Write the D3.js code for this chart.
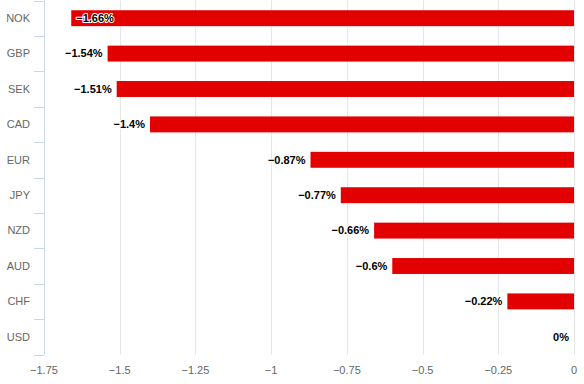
<!DOCTYPE html>
<html>
<head>
<meta charset="utf-8">
<script src="https://cdn.jsdelivr.net/npm/d3@7"></script>
<style>
  body { margin: 0; background: #fff; }
  svg { display: block; font-family: "Lucida Grande", "Lucida Sans Unicode", Arial, Helvetica, sans-serif; }
</style>
</head>
<body>
<script>
// currency performance, in %
var currencies = ["NOK", "GBP", "SEK", "CAD", "EUR", "JPY", "NZD", "AUD", "CHF", "USD"];
var changes = [-1.66, -1.54, -1.51, -1.4, -0.87, -0.77, -0.66, -0.6, -0.22, 0];
var xTicks = [-1.75, -1.5, -1.25, -1, -0.75, -0.5, -0.25, 0];

var width = 584,
    height = 384,
    plotLeft = 44,
    plotRight = 574,
    plotTop = 0.5,
    plotBottom = 354.5;

var fmt = function (v) { return String(v).replace("-", "\u2212"); };

var svg = d3.select("body").append("svg")
    .attr("width", width)
    .attr("height", height);

var x = d3.scaleLinear().domain([-1.75, 0]).range([plotLeft, plotRight]);
var y = d3.scaleBand().domain(currencies).range([plotTop, plotBottom]).paddingInner(0.55).paddingOuter(0.275);
var band = d3.scaleBand().domain(currencies).range([plotTop, plotBottom]);

// vertical grid lines
svg.append("g").selectAll("line")
    .data(xTicks.slice(1))
    .enter().append("line")
    .attr("x1", function (d) { return Math.round(x(d)) + 0.5; })
    .attr("x2", function (d) { return Math.round(x(d)) + 0.5; })
    .attr("y1", plotTop)
    .attr("y2", plotBottom)
    .attr("stroke", "#e6e6e6");

// x tick labels
svg.append("g").selectAll("text")
    .data(xTicks)
    .enter().append("text")
    .attr("x", function (d) { return x(d); })
    .attr("y", 374)
    .attr("text-anchor", "middle")
    .attr("font-size", 11)
    .attr("fill", "#666")
    .text(fmt);

// category axis line + ticks between categories
var cat = svg.append("g");
cat.append("line")
    .attr("x1", plotLeft + 0.5).attr("x2", plotLeft + 0.5)
    .attr("y1", plotTop).attr("y2", plotBottom)
    .attr("stroke", "#ccd6eb");
cat.selectAll("line.tick")
    .data(currencies.concat(["end"]))
    .enter().append("line")
    .attr("class", "tick")
    .attr("x1", plotLeft - 10).attr("x2", plotLeft)
    .attr("y1", function (d, i) { return Math.round(plotTop + i * band.step()) + 0.5; })
    .attr("y2", function (d, i) { return Math.round(plotTop + i * band.step()) + 0.5; })
    .attr("stroke", "#ccd6eb");
cat.selectAll("text")
    .data(currencies)
    .enter().append("text")
    .attr("x", 30)
    .attr("y", function (d) { return band(d) + band.bandwidth() / 2; })
    .attr("dy", "0.35em")
    .attr("text-anchor", "end")
    .attr("font-size", 11)
    .attr("fill", "#666")
    .text(function (d) { return d; });

// bars
svg.append("g").selectAll("rect")
    .data(changes)
    .enter().append("rect")
    .attr("x", function (d) { return x(d); })
    .attr("y", function (d, i) { return y(currencies[i]); })
    .attr("width", function (d) { return x(0) - x(d); })
    .attr("height", y.bandwidth())
    .attr("fill", "#e20000");

// data labels
var labels = svg.append("g").selectAll("text")
    .data(changes)
    .enter().append("text")
    .attr("y", function (d, i) { return band(currencies[i]) + band.bandwidth() / 2; })
    .attr("dy", "0.35em")
    .attr("font-size", 11)
    .attr("font-weight", "bold")
    .attr("fill", "#000")
    .attr("stroke", "#fff")
    .attr("stroke-width", 2)
    .attr("stroke-linejoin", "round")
    .attr("paint-order", "stroke")
    .text(function (d) { return fmt(d) + "%"; });

labels.each(function (d) {
    var t = d3.select(this);
    var w = this.getComputedTextLength();
    var end = x(d) - 5;
    if (end - w < plotLeft) {
        // not enough room, move it inside the bar
        t.attr("x", x(d) + 5).attr("text-anchor", "start");
    } else {
        t.attr("x", end).attr("text-anchor", "end");
    }
});
</script>
</body>
</html>
